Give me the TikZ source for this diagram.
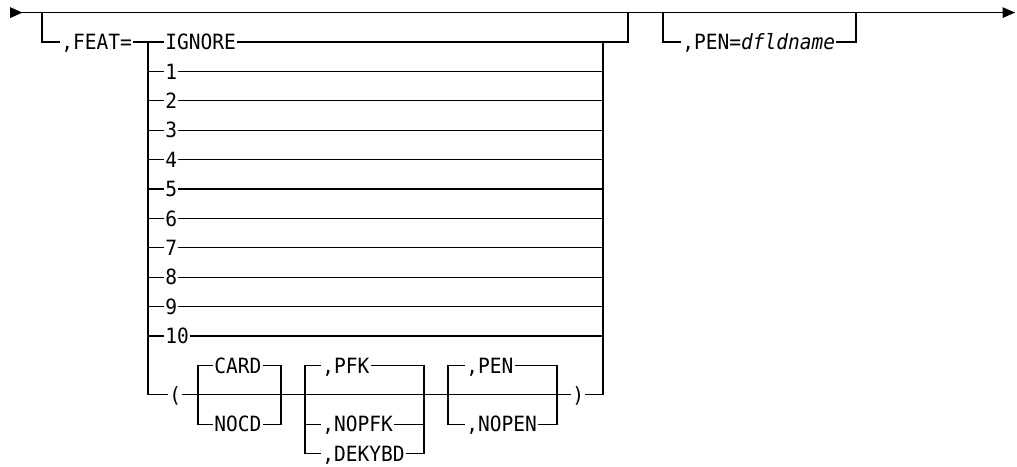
\documentclass[tikz,border=0pt]{standalone}
\usepackage{fontspec}
\setmonofont[FakeStretch=0.93]{DejaVu Sans Mono}
\begin{document}
\begin{tikzpicture}[
        x=1pt, y=-1pt,
        line width=1.1pt,
        kw/.style={font=\ttfamily\fontsize{21}{24}\selectfont, inner xsep=0.7pt, inner ysep=0pt,
            text height=15.3pt, text depth=0pt, anchor=west}
    ]
        \useasboundingbox (0,0) rectangle (1017,466);

        % main line
        \coordinate (start) at (10,12.6);
        \coordinate (stop) at (1015,12.6);
        \draw (start) -- (stop);
        \fill (start) ++(0,-5.5) -- ++(12.5,5.5) -- ++(-12.5,5.5) -- cycle;
        \fill (stop) -- ++(-12.5,-5.5) -- ++(0,11) -- cycle;

        % ,FEAT= branch
        \coordinate (featl) at (42,12.6);
        \coordinate (featr) at (628,12.6);
        \coordinate (chl) at (148,42);
        \coordinate (chr) at (603,42);
        \node[kw] (feat) at (60,42) {,FEAT=};
        \node[kw] (ignore) at (164,42) {IGNORE};
        \draw (featl) |- (feat.west);
        \draw (feat.east) -- (ignore.west);
        \draw (ignore.east) -| (featr);
        \foreach \d in {1,...,10} {
            \node[kw] (d\d) at (164,{42+29.4*\d}) {\d};
            \draw (d\d.west -| chl) -- (d\d.west);
            \draw (d\d.east) -- (d\d.east -| chr);
        }

        % parenthesised group
        \node[kw] (lpar) at (168,394.8) {(};
        \node[kw] (rpar) at (571,394.8) {)};
        \draw (chl) |- (lpar.west);
        \draw (chr) |- (rpar.east);
        \draw (lpar.east) -- (rpar.west);

        \node[kw] (card) at (213,365.4) {CARD};
        \node[kw] (nocd) at (213,424.2) {NOCD};
        \coordinate (cardl) at (198,394.8);
        \coordinate (cardr) at (281,394.8);
        \draw (card.west) -| (cardl) |- (nocd.west);
        \draw (card.east) -| (cardr) |- (nocd.east);

        \node[kw] (pfk) at (321,365.4) {,PFK};
        \node[kw] (nopfk) at (321,424.2) {,NOPFK};
        \node[kw] (dekybd) at (321,453.6) {,DEKYBD};
        \coordinate (pfkl) at (305,394.8);
        \coordinate (pfkr) at (424,394.8);
        \draw (pfk.west) -| (pfkl) |- (dekybd.west);
        \draw (pfkl |- nopfk.west) -- (nopfk.west);
        \draw (pfk.east) -| (pfkr) |- (dekybd.east);
        \draw (nopfk.east) -- (nopfk.east -| pfkr);

        \node[kw] (pen) at (465,365.4) {,PEN};
        \node[kw] (nopen) at (465,424.2) {,NOPEN};
        \coordinate (penl) at (448,394.8);
        \coordinate (penr) at (557,394.8);
        \draw (pen.west) -| (penl) |- (nopen.west);
        \draw (pen.east) -| (penr) |- (nopen.east);

        % ,PEN= branch
        \coordinate (pdl) at (663,12.6);
        \coordinate (pdr) at (856,12.6);
        \node[kw] (pendef) at (681,42) {,PEN=\textit{dfldname}};
        \draw (pdl) |- (pendef.west);
        \draw (pendef.east) -| (pdr);
    \end{tikzpicture}
\end{document}
